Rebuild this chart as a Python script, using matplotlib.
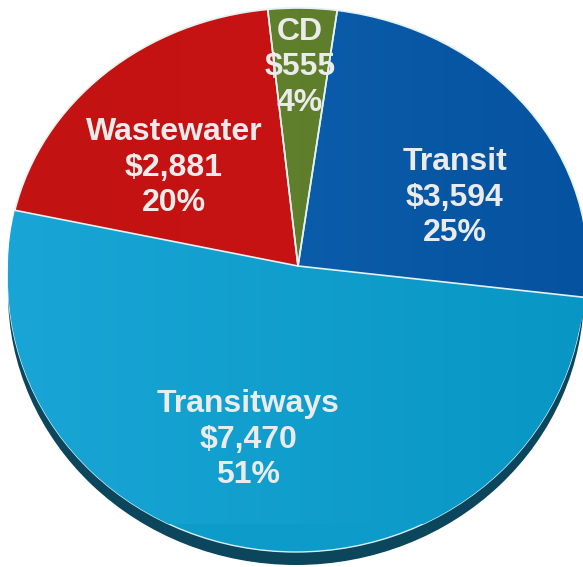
"""Capital budget split pie chart (3D-look) recreated with matplotlib."""
import matplotlib
matplotlib.use("Agg")
import matplotlib.pyplot as plt
import numpy as np
from matplotlib.colors import LinearSegmentedColormap
from matplotlib.patches import Ellipse

# data (clockwise from the top)
categories = ["CD", "Transit", "Transitways", "Wastewater"]
amounts = [555, 3594, 7470, 2881]
pct_labels = ["4%", "25%", "51%", "20%"]

# left -> right shading of each slice
colors_left = ["#648430", "#1066b3", "#19a6d6", "#c21212"]
colors_right = ["#5a7a28", "#0552a0", "#0896c4", "#cc1414"]
label_xy = [(0.007, 0.771), (0.541, 0.264), (-0.172, -0.674), (-0.428, 0.380)]

W, H = 583, 567
CX, CY = 298, 266      # pie apex in pixels
RX, RY = 290, 258      # pie semi-axes in pixels

fig = plt.figure(figsize=(W / 100, H / 100), dpi=100)
ax = fig.add_axes([0, 0, 1, 1])
xlim = (-CX / RX, (W - CX) / RX)
ylim = (-(H - CY) / RY, CY / RY)

# depth of the "3D" disc and the lower part of the face
face_cx = (296 - CX) / RX
face_cy = -(280 - CY) / RY
face_w = 2 * 288 / RX
face_h = 2 * 272 / RY
depth = Ellipse((face_cx, face_cy - 13 / RY), face_w, face_h,
                facecolor="#0b465d", edgecolor="none", zorder=0)
ax.add_patch(depth)
face = Ellipse((face_cx, face_cy), face_w, face_h,
               facecolor="#0d9bc9", edgecolor="#d8eef5", linewidth=1.0, zorder=1)
ax.add_patch(face)

wedges, _ = ax.pie(amounts, colors=colors_right, startangle=96, counterclock=False,
                   radius=1.0, center=(0, 0), frame=True,
                   wedgeprops=dict(edgecolor="#e6f2f2", linewidth=1.2))

grad = np.linspace(0, 1, 256).reshape(1, -1)
for i, w in enumerate(wedges):
    cmap = LinearSegmentedColormap.from_list(
        categories[i], [colors_left[i], colors_right[i]])
    img = ax.imshow(grad, cmap=cmap, aspect="auto", extent=(-1, 1, -1, 1),
                    interpolation="bilinear", zorder=2 if i == 2 else 3)
    img.set_clip_path(w)
    w.set_facecolor("none")
    w.set_zorder(2.5 if i == 2 else 3.5)
wedges[2].set_edgecolor("none")

# lower face of the Transitways slice follows the same shading
img = ax.imshow(grad, cmap=LinearSegmentedColormap.from_list(
    "face", [colors_left[2], colors_right[2]]), aspect="auto",
    extent=(-1, 1, -1, 1), interpolation="bilinear", zorder=1.5)
img.set_clip_path(face)

ax.set_xlim(*xlim)
ax.set_ylim(*ylim)
ax.set_aspect("auto")
ax.axis("off")

for name, amt, pct, (x, y) in zip(categories, amounts, pct_labels, label_xy):
    ax.text(x, y, f"{name}\n${amt:,}\n{pct}", ha="center", va="center",
            fontsize=23, fontweight="bold", color="#ebebeb",
            family=["Liberation Sans", "DejaVu Sans"], linespacing=1.24,
            zorder=5)

fig.savefig("out.png", dpi=100)
